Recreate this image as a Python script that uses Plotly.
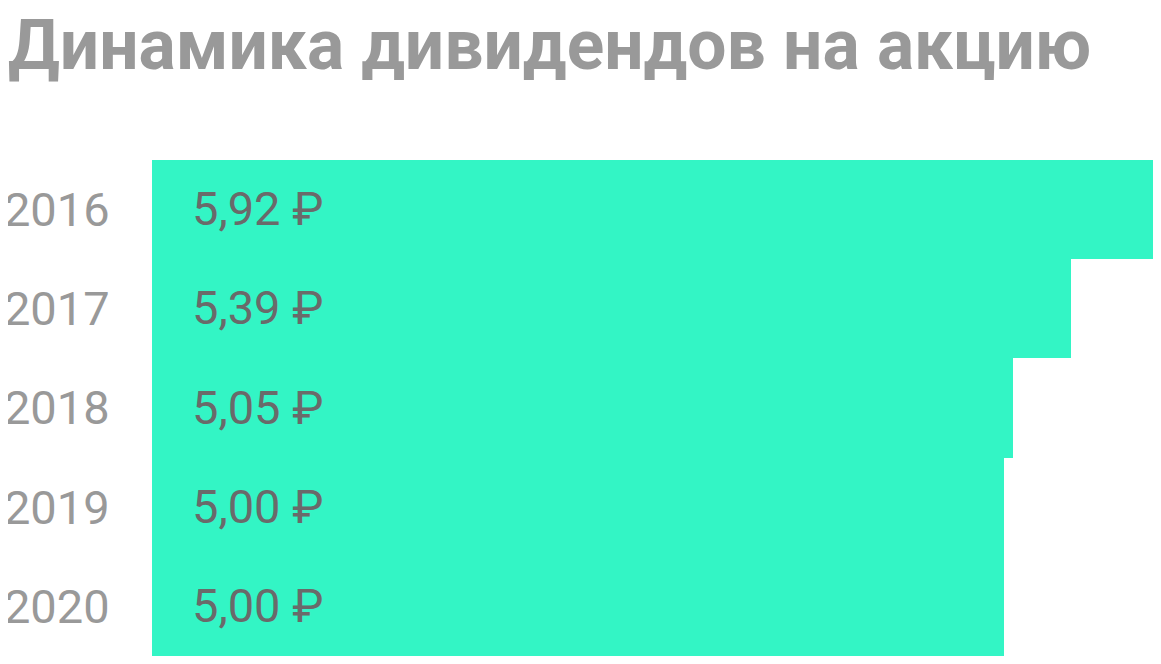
import plotly.graph_objects as go

years = ["2016", "2017", "2018", "2019", "2020"]
dividends = [5.92, 5.39, 5.05, 5.00, 5.00]
value_labels = ["5,92 ₽", "5,39 ₽", "5,05 ₽", "5,00 ₽", "5,00 ₽"]
title_text = "Динамика дивидендов на акцию"

BAR_COLOR = "#33F5C5"
FONT = "Roboto"

fig = go.Figure()
fig.add_trace(go.Bar(
    x=dividends,
    y=years,
    orientation="h",
    marker=dict(color=BAR_COLOR, line=dict(width=0)),
    hoverinfo="skip",
))

# value labels: y given as category index (category names look numeric)
for i, lab in enumerate(value_labels):
    fig.add_annotation(
        x=0, y=i, xref="x", yref="y",
        text=lab, showarrow=False,
        xanchor="left", yanchor="middle", xshift=38, yshift=1,
        font=dict(family=FONT, size=47, color="#6a6a6a"),
    )

# title
fig.add_annotation(
    x=0, y=1, xref="paper", yref="paper",
    text="<b>" + title_text + "</b>", showarrow=False,
    xanchor="left", yanchor="middle", xshift=-146, yshift=114.5,
    font=dict(family=FONT, size=69.5, color="#999999"),
)

fig.update_layout(
    width=1153, height=648,
    margin=dict(l=144, r=0, t=152, b=0, autoexpand=False),
    paper_bgcolor="white", plot_bgcolor="white",
    bargap=0,
    showlegend=False,
    xaxis=dict(range=[0, 5.92], visible=False, fixedrange=True, automargin=False),
    yaxis=dict(
        type="category",
        categoryorder="array", categoryarray=years,
        range=[4.5, -0.5],
        showgrid=False, zeroline=False, showline=False,
        ticks="outside", ticklen=32, tickcolor="rgba(0,0,0,0)", automargin=False,
        tickfont=dict(family=FONT, size=47, color="#999999"),
        fixedrange=True,
    ),
)

fig.write_html("out.html")
